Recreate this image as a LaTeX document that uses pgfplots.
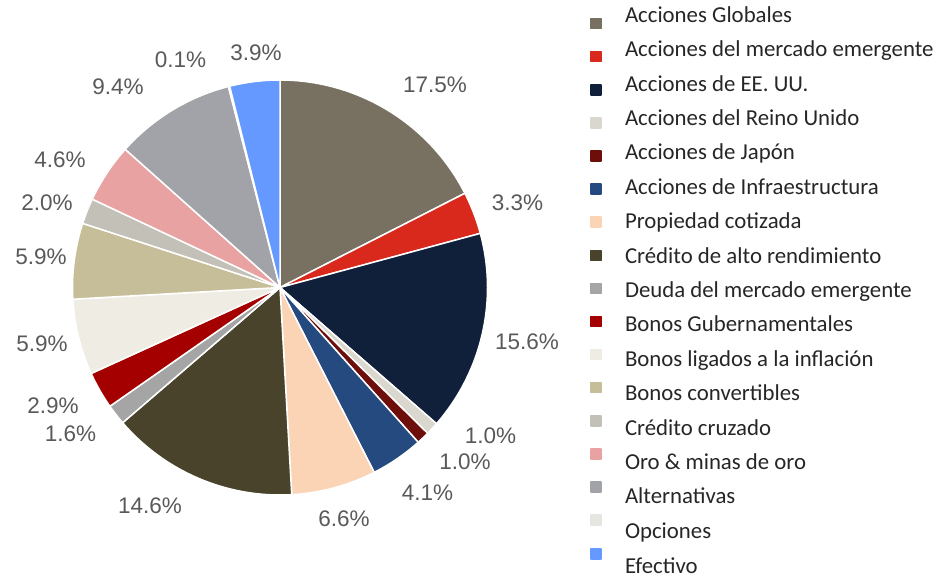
\documentclass[border=0pt]{standalone}
\usepackage{fontspec}
\setmainfont{Carlito}
\newfontfamily\labfont{Liberation Sans}
\usepackage{pgfplots}
\pgfplotsset{compat=1.18}
\definecolor{c1}{HTML}{787162}
\definecolor{c2}{HTML}{D9281C}
\definecolor{c3}{HTML}{10203A}
\definecolor{c4}{HTML}{DAD7CE}
\definecolor{c5}{HTML}{6E0E0A}
\definecolor{c6}{HTML}{244A80}
\definecolor{c7}{HTML}{FBD4B5}
\definecolor{c8}{HTML}{4A432B}
\definecolor{c9}{HTML}{A5A5A5}
\definecolor{c10}{HTML}{A50000}
\definecolor{c11}{HTML}{EEECE3}
\definecolor{c12}{HTML}{C6BE98}
\definecolor{c13}{HTML}{C3C1B7}
\definecolor{c14}{HTML}{E8A2A2}
\definecolor{c15}{HTML}{A2A3A8}
\definecolor{c16}{HTML}{E6E5DF}
\definecolor{c17}{HTML}{6699FF}
\definecolor{labgray}{HTML}{595959}
\definecolor{legtext}{HTML}{262626}
\tikzset{lab/.style={font=\labfont\fontsize{22.5}{27}\selectfont, text=labgray, anchor=base, inner sep=0pt}}
% #1 cumulative share before the slice, #2 share (%), #3 colour, #4 name, #5 legend marker offset
\newcommand\slice[5]{%
  \addplot[fill=#3, draw=white, line width=1.5pt, line join=round, samples=90,
    domain={90-3.6*(#1+#2)}:{90-3.6*(#1)},
    legend image code/.code={\fill[#3] (-5pt,#5-5pt) rectangle (5pt,#5+5pt);}]
    ({280+207.5*cos(x)},{291.5+207.5*sin(x)}) -- (axis cs:280,291.5) -- cycle;
  \addlegendentry{#4}%
}
\begin{document}
\begin{tikzpicture}
\begin{axis}[hide axis, x=1pt, y=1pt, xmin=0, xmax=936, ymin=0, ymax=579,
  clip=false,
  legend cell align=left,
  legend style={at={(axis cs:590,581.1)}, anchor=north west, draw=none, fill=none,
    inner sep=0pt, outer sep=0pt, column sep=23.5pt, row sep=0pt,
    font=\fontsize{22.8}{27}\selectfont, text=legtext,
    nodes={inner sep=0pt, text height=24.4pt, text depth=10pt}}]
\slice{0}{17.5}{c1}{Acciones Globales}{-8.5pt}
\slice{17.5}{3.3}{c2}{Acciones del mercado emergente}{-7.2pt}
\slice{20.8}{15.6}{c3}{Acciones de EE. UU.}{-5.9pt}
\slice{36.4}{1.0}{c4}{Acciones del Reino Unido}{-4.6pt}
\slice{37.4}{1.0}{c5}{Acciones de Japón}{-3.3pt}
\slice{38.4}{4.1}{c6}{Acciones de Infraestructura}{-2.0pt}
\slice{42.5}{6.6}{c7}{Propiedad cotizada}{-0.7pt}
\slice{49.1}{14.6}{c8}{Crédito de alto rendimiento}{0.6pt}
\slice{63.7}{1.6}{c9}{Deuda del mercado emergente}{1.9pt}
\slice{65.3}{2.9}{c10}{Bonos Gubernamentales}{3.2pt}
\slice{68.2}{5.9}{c11}{Bonos ligados a la inflación}{4.5pt}
\slice{74.1}{5.9}{c12}{Bonos convertibles}{5.8pt}
\slice{80.0}{2.0}{c13}{Crédito cruzado}{7.1pt}
\slice{82.0}{4.6}{c14}{Oro \& minas de oro}{8.4pt}
\slice{86.6}{9.4}{c15}{Alternativas}{9.7pt}
\slice{96.0}{0.1}{c16}{Opciones}{11.0pt}
\slice{96.1}{3.9}{c17}{Efectivo}{12.3pt}
\node[lab] at (axis cs:435,486) {17.5\%};
\node[lab] at (axis cs:517.5,368.5) {3.3\%};
\node[lab] at (axis cs:527,230) {15.6\%};
\node[lab] at (axis cs:490.5,135.5) {1.0\%};
\node[lab] at (axis cs:465,109.5) {1.0\%};
\node[lab] at (axis cs:427.5,78.5) {4.1\%};
\node[lab] at (axis cs:344,53) {6.6\%};
\node[lab] at (axis cs:150,66) {14.6\%};
\node[lab] at (axis cs:70.5,137.5) {1.6\%};
\node[lab] at (axis cs:53,166) {2.9\%};
\node[lab] at (axis cs:42,228) {5.9\%};
\node[lab] at (axis cs:41,315) {5.9\%};
\node[lab] at (axis cs:47,368) {2.0\%};
\node[lab] at (axis cs:60,411) {4.6\%};
\node[lab] at (axis cs:118,484) {9.4\%};
\node[lab] at (axis cs:180.5,511.5) {0.1\%};
\node[lab] at (axis cs:256,518) {3.9\%};
\end{axis}
\pgfresetboundingbox
\path[use as bounding box] (current axis.south west) rectangle (current axis.north east);
\end{tikzpicture}
\end{document}
